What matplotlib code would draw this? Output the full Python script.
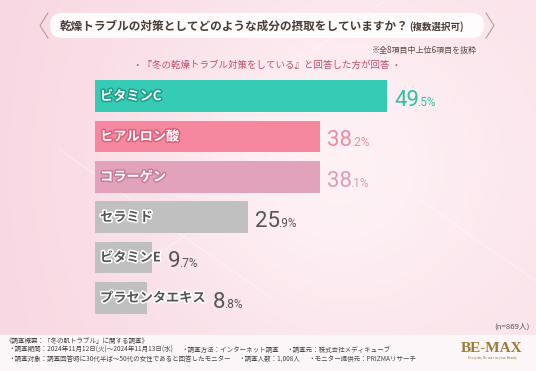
import numpy as np
import matplotlib
matplotlib.use('Agg')
import matplotlib.pyplot as plt
import matplotlib.patheffects as pe
from matplotlib.patches import FancyBboxPatch

plt.rcParams['font.family'] = ['Noto Sans CJK JP', 'DejaVu Sans']

# data
items = ['ビタミンC', 'ヒアルロン酸', 'コラーゲン', 'セラミド', 'ビタミンE', 'プラセンタエキス']
values = [49.5, 38.2, 38.1, 25.9, 9.7, 8.8]
bar_colors = ['#35cbb4', '#f5889f', '#e3a2bb', '#c0c0c0', '#c0c0c0', '#c0c0c0']
num_colors = ['#35bfa6', '#ef8aa0', '#e09ab3', '#555555', '#555555', '#555555']
outline_colors = ['#1f9c88', '#d9607c', '#c87d99', '#ffffff', '#ffffff', '#ffffff']
label_colors = ['#ffffff', '#ffffff', '#ffffff', '#555555', '#555555', '#555555']

title = '乾燥トラブルの対策としてどのような成分の摂取をしていますか？'
title_small = '(複数選択可)'
note = '※全8項目中上位6項目を抜粋'
subtitle = '・『冬の乾燥トラブル対策をしている』と回答した方が回答 ・'
n_text = '(n=869人)'
footer_head = '《調査概要：「冬の肌トラブル」に関する調査》'
footer_row1 = ['・調査期間：2024年11月12日(火)～2024年11月13日(水)', '・調査方法：インターネット調査', '・調査元：株式会社メディキューブ']
footer_row2 = ['・調査対象：調査回答時に30代半ば～50代の女性であると回答したモニター', '・調査人数：1,008人', '・モニター提供元：PRIZMAリサーチ']

W, H = 536, 371
fig = plt.figure(figsize=(W / 100, H / 100), dpi=100)

# background
bg = fig.add_axes([0, 0, 1, 1])
xx, yy = np.meshgrid(np.linspace(0, 1, 300), np.linspace(0, 1, 200))
t = np.clip(0.6 * np.exp(-((xx - 0.6) ** 2 / 0.12 + (yy - 0.45) ** 2 / 0.25)) + 0.3 * xx, 0, 1)
c1 = np.array([0.975, 0.85, 0.89])
c2 = np.array([1.0, 0.975, 0.98])
img = c1 + (c2 - c1) * t[..., None]
bg.imshow(img, extent=[0, W, H, 0], aspect='auto')
bg.set_xlim(0, W)
bg.set_ylim(H, 0)
bg.axis('off')

# faint sparkle streaks
for x0, y0, L, ang in [(60, 150, 260, 35), (300, 60, 300, -35), (420, 200, 200, 35), (150, 260, 220, -35)]:
    a = np.deg2rad(ang)
    bg.plot([x0, x0 + L * np.cos(a)], [y0, y0 + L * np.sin(a)], color='white', lw=0.6, alpha=0.5, zorder=1)

# footer band
bg.add_patch(plt.Rectangle((0, 335), W, 36, color='#fdf6f8', zorder=2))

# title box
bg.add_patch(FancyBboxPatch((50, 13), 434, 25, boxstyle='round,pad=0,rounding_size=12',
                            fc='white', ec='none', alpha=0.9, zorder=2))
bg.plot([48, 40, 48], [13, 25.5, 38], color='#b0a090', lw=0.8, zorder=3)
bg.plot([486, 494, 486], [13, 25.5, 38], color='#b0a090', lw=0.8, zorder=3)
tt = bg.text(60, 26, title, fontsize=8.4, fontweight='bold', color='#4a3c35',
             va='center', ha='left', zorder=4)
fig.canvas.draw()
r = fig.canvas.get_renderer()
binv = bg.transData.inverted()
x1 = binv.transform(tt.get_window_extent(r).p1)[0]
bg.text(x1, 26.5, title_small, fontsize=6.8, fontweight='bold', color='#4a3c35',
        va='center', ha='left', zorder=4)
bg.text(477, 50, note, fontsize=5.8, color='#5a4a45', ha='right', va='center', zorder=4)
bg.text(267, 65, subtitle, fontsize=6.8, color='#c04d66', ha='center', va='center', zorder=4)
bg.text(530, 327, n_text, fontsize=5.6, color='#555555', ha='right', va='center', zorder=4)
bg.text(6, 341, footer_head, fontsize=4.7, color='#444444', ha='left', va='center', zorder=4)
for row, yrow in [(footer_row1, 350), (footer_row2, 359)]:
    x = 8
    for txt in row:
        ft = bg.text(x, yrow, txt, fontsize=4.7, color='#444444', ha='left', va='center', zorder=4)
        x = binv.transform(ft.get_window_extent(r).p1)[0] + 8
bg.text(492, 348, 'BE-MAX', fontsize=11, fontweight='bold', family='Liberation Serif',
        color='#9a7a35', ha='center', va='center', zorder=4)
bg.text(492, 358, 'Everyday Be max in your Beauty', fontsize=2.6, family='Liberation Serif',
        color='#9a7a35', ha='center', va='center', zorder=4)

# bars
ax = fig.add_axes([95 / W, (H - 318) / H, 354 / W, 242 / H])
ax.set_xlim(0, 60)
ax.set_ylim(5.5, -0.5)
ax.axis('off')
ypos = np.arange(len(items))
ax.barh(ypos, values, height=0.79, color=bar_colors, zorder=2)

fig.canvas.draw()
r = fig.canvas.get_renderer()
inv = ax.transData.inverted()
for i, (name, v) in enumerate(zip(items, values)):
    lab = ax.text(0.85, i, name, fontsize=9.5, fontweight='bold', color=label_colors[i],
                  ha='left', va='center', zorder=3,
                  path_effects=[pe.withStroke(linewidth=2.2, foreground=outline_colors[i])])
    bb = lab.get_window_extent(r)
    end_px = max(ax.transData.transform((v, i))[0], bb.x1)
    xs = inv.transform((end_px + 7, 0))[0]
    whole, frac = ('%.1f' % v).split('.')
    big = ax.text(xs, i + 0.24, whole, fontsize=16, color=num_colors[i], family='Roboto',
                  ha='left', va='baseline', zorder=3)
    bx = big.get_window_extent(r).x1
    ax.text(inv.transform((bx - 1.5, 0))[0], i + 0.24, '.' + frac + '%', fontsize=8.5,
            color=num_colors[i], family='Roboto', ha='left', va='baseline', zorder=3)

fig.savefig('out.png', dpi=100)
